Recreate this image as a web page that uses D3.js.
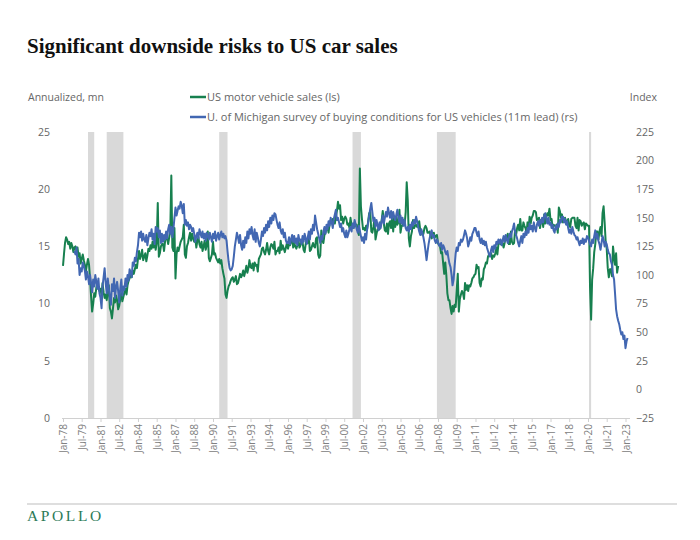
<!DOCTYPE html>
<html><head><meta charset="utf-8">
<script src="https://cdn.jsdelivr.net/npm/d3@7"></script>
<style>body{margin:0;background:#fff}svg{display:block}</style>
</head><body><svg id="c" width="700" height="540"></svg>
<script>
// ---- DATA ----
const title = "Significant downside risks to US car sales";
const leftAxisTitle = "Annualized, mn";
const rightAxisTitle = "Index";
const seriesNames = ["US motor vehicle sales (ls)", "U. of Michigan survey of buying conditions for US vehicles (11m lead) (rs)"];

const salesStart = "1978-01";
const sales = [
13.3,14.4,15.3,15.8,15.6,15.2,15.4,14.8,15.3,15.0,14.5,14.9,
15.0,14.6,14.9,14.1,14.4,13.5,13.9,14.3,13.8,13.4,12.8,13.4,
13.9,13.4,12.2,10.6,9.3,10.0,10.9,10.6,11.4,11.8,11.3,11.1,
11.3,10.7,11.8,11.0,10.5,10.8,10.3,11.0,11.6,9.6,9.3,8.7,
9.6,10.5,10.1,10.7,10.3,9.5,9.8,10.4,10.9,10.2,10.6,11.0,
11.3,10.8,11.6,12.0,12.2,12.6,12.3,12.9,12.6,13.0,13.4,13.1,
13.9,14.6,13.9,14.2,14.7,13.8,14.1,14.4,13.7,14.2,14.8,14.6,
15.1,14.8,15.4,14.9,15.6,14.7,15.3,18.8,14.1,14.4,15.0,15.2,
15.2,14.6,15.4,16.1,15.7,15.2,15.8,16.3,21.2,14.9,14.6,16.6,
12.2,14.3,14.9,14.6,15.0,15.4,15.6,15.8,16.9,14.3,14.0,15.0,
15.3,15.8,16.2,15.5,16.1,15.7,15.4,15.7,14.9,15.5,15.8,15.2,
14.9,15.4,14.6,15.0,15.5,14.7,15.1,16.3,14.0,13.7,14.0,14.3,
15.4,14.3,14.4,14.0,13.8,13.6,13.9,13.5,13.8,13.1,12.6,12.2,
10.8,10.5,11.1,11.5,11.7,12.0,12.2,12.3,11.9,12.1,12.4,11.7,
11.8,12.2,12.6,12.3,12.5,12.9,12.4,12.8,13.3,12.7,13.1,13.8,
13.2,13.1,13.5,12.9,13.6,13.3,13.4,12.8,13.9,14.1,14.3,14.8,
14.9,14.5,14.3,14.7,15.3,14.6,14.3,14.9,15.2,15.1,14.8,15.4,
14.3,14.6,14.6,14.9,14.4,15.5,14.7,15.1,14.8,14.5,14.9,15.3,
14.8,15.2,15.1,15.4,15.8,14.9,15.3,15.0,14.8,15.1,15.6,14.9,
15.1,15.5,15.4,14.7,14.5,15.2,15.6,15.3,15.9,14.6,14.7,15.0,
15.3,15.0,14.9,15.7,15.8,14.3,14.0,14.2,16.4,15.5,15.3,16.0,
16.2,16.6,16.7,16.2,17.0,17.3,17.1,17.4,17.2,17.0,17.6,18.1,
18.9,18.3,18.6,17.3,17.6,17.0,17.4,17.6,17.4,16.9,17.0,16.6,
17.5,16.8,16.9,16.6,17.1,16.8,16.9,16.4,16.0,21.8,18.5,17.4,
16.5,16.6,16.4,16.8,16.5,17.2,17.9,18.0,16.3,16.2,16.7,17.4,
15.6,16.1,16.5,16.5,16.5,16.9,17.3,18.1,17.0,16.4,16.3,17.0,
16.1,17.0,17.2,16.6,17.6,16.3,17.5,16.7,17.6,16.9,17.1,18.2,
16.2,16.8,16.8,17.3,16.9,18.0,20.6,19.0,15.7,15.0,15.9,16.3,
17.3,16.6,16.8,16.9,16.7,16.8,17.2,16.4,16.3,16.0,16.1,16.6,
16.8,16.6,16.2,16.2,16.3,15.9,15.7,16.0,16.2,15.8,15.9,16.0,
15.3,15.1,15.0,14.4,14.5,13.5,12.6,13.6,12.5,10.9,10.3,10.3,
9.6,9.1,9.8,9.3,9.9,9.7,11.2,12.6,9.3,10.4,10.8,11.1,
10.9,10.4,11.8,11.2,11.6,11.1,11.6,11.5,11.8,12.2,12.3,12.5,
12.6,13.4,13.1,13.2,11.8,11.5,12.2,12.1,13.0,13.2,13.6,13.5,
14.1,14.3,14.2,14.4,13.9,14.2,14.1,14.4,14.9,14.3,15.2,15.3,
15.2,15.3,15.3,14.9,15.3,15.9,15.8,16.1,15.2,15.2,16.3,15.4,
15.2,15.3,16.4,16.0,16.6,16.9,16.4,17.4,16.4,16.4,17.1,16.8,
16.6,16.2,17.1,16.5,17.6,17.0,17.5,17.7,18.1,18.1,18.0,17.3,
17.4,17.5,16.6,17.3,17.4,16.7,17.8,17.0,17.6,17.9,17.7,18.3,
17.3,17.4,16.6,16.9,16.8,16.8,16.9,16.2,18.4,18.1,17.5,17.8,
17.1,17.2,17.5,17.2,17.1,17.4,16.8,16.7,17.4,17.5,17.5,17.5,
16.8,16.6,17.5,16.4,17.3,17.2,16.8,17.0,17.1,16.5,17.0,16.9,
16.8,16.8,11.4,8.6,12.1,13.1,14.5,15.2,16.3,16.3,15.6,16.3,
16.7,15.9,17.9,18.5,17.1,15.4,14.8,13.1,12.3,13.0,13.0,12.4,
15.0,14.1,13.4,14.4,12.7,13.3
];

// Michigan survey: monthly from survey month Jan-78, plotted 11 months ahead
const michiganStart = "1978-01";
const leadMonths = 11;
const michigan = [
121,
118,124,110,114,100,106,103,111,108,104,96,103,
99,92,100,93,85,96,90,100,94,88,97,84,
80,71,90,98,106,93,84,97,88,80,74,92,
86,97,80,90,94,86,76,88,96,82,90,87,
97,90,100,95,105,102,98,111,108,115,112,120,
126,137,133,138,130,136,131,129,135,126,132,137,
134,140,131,136,127,142,138,141,133,139,128,136,
129,135,131,138,132,140,144,136,142,133,140,150,
159,152,156,160,158,164,161,154,162,144,148,143,
146,140,144,142,138,141,136,129,134,137,132,140,
136,133,138,132,136,130,137,134,131,137,133,129,
136,132,138,130,134,137,131,135,138,133,136,132,
134,130,121,112,106,104,105,108,116,125,131,137,
133,128,135,126,122,130,124,133,128,138,132,140,
136,142,135,131,140,129,137,133,128,125,131,138,
134,141,137,144,139,147,142,150,145,152,148,154,
153,148,144,141,146,139,136,140,133,137,130,128,
128,133,127,131,135,129,134,128,132,126,135,130,
131,127,134,129,136,132,127,133,138,131,140,136,
144,139,152,146,140,136,132,128,134,131,138,142,
136,144,140,147,143,150,146,141,149,153,157,148,
150,146,142,145,138,141,136,133,139,133,136,140,
142,138,145,141,148,144,140,137,143,139,134,130,
133,128,136,131,140,146,152,158,163,155,147,150,
142,148,144,139,146,141,147,152,145,150,155,151,
159,154,150,156,149,155,151,148,153,157,150,146,
152,145,150,143,148,141,139,142,138,144,140,146,
143,148,145,151,147,142,138,135,140,137,133,128,
121,113,120,127,132,136,139,133,135,130,128,131,
129,126,125,128,122,126,124,120,118,121,115,110,
107,100,91,96,108,119,124,121,128,126,131,129,
131,135,139,136,132,125,128,133,130,136,138,141,
141,137,134,138,131,128,132,127,130,126,129,124,
121,118,116,122,125,120,126,123,129,127,131,128,
131,126,130,134,129,135,131,128,133,136,133,138,
141,145,138,135,132,128,125,130,134,128,136,133,
138,135,141,137,145,140,143,138,146,141,138,144,
147,143,148,145,150,146,152,154,149,145,150,144,
146,141,144,139,137,143,140,145,142,148,146,151,
151,146,149,144,147,141,137,140,136,142,138,135,
134,131,133,129,126,130,128,132,127,131,129,134,
133,130,127,125,131,128,134,139,132,136,130,127,
122,128,134,131,125,129,127,122,119,118,112,109,
100,96,84,70,64,60,57,52,48,50,44,47,
36,42,45
];

const recessions = [
  ["1980-01","1980-07"],["1981-07","1982-11"],["1990-07","1991-03"],
  ["2001-03","2001-11"],["2007-12","2009-06"],["2020-02","2020-04"]
];
const xTickLabels = ["Jan-78","Jul-79","Jan-81","Jul-82","Jan-84","Jul-85","Jan-87","Jul-88","Jan-90","Jul-91","Jan-93","Jul-94","Jan-96","Jul-97","Jan-99","Jul-00","Jan-02","Jul-03","Jan-05","Jul-06","Jan-08","Jul-09","Jan-11","Jul-12","Jan-14","Jul-15","Jan-17","Jul-18","Jan-20","Jul-21","Jan-23"];
const leftTicks = [0,5,10,15,20,25];
const rightTicks = [-25,0,25,50,75,100,125,150,175,200,225];

// ---- CHART ----
const svg = d3.select("#c");
const parseYM = d3.timeParse("%Y-%m");
const parseTick = d3.timeParse("%b-%y");
const green = "#17804f", blue = "#4267b2", grey = "#666";
const fontSans = "'Open Sans', 'Noto Sans', sans-serif";

const x = d3.scaleTime().domain([parseYM("1978-01"), parseYM("2023-01")]).range([63, 625.5]);
const yL = d3.scaleLinear().domain([0,25]).range([418,132]);
const yR = d3.scaleLinear().domain([-25,225]).range([418,132]);

svg.append("rect").attr("width",700).attr("height",540).attr("fill","#fff");

// title
svg.append("text").attr("x",27).attr("y",53).text(title)
  .attr("font-family","'Liberation Serif', 'DejaVu Serif', serif").attr("font-weight","bold")
  .attr("font-size",21).attr("fill","#111");

// axis titles
svg.append("text").attr("x",28).attr("y",101).text(leftAxisTitle)
  .attr("font-family",fontSans).attr("font-size",10.5).attr("fill",grey);
svg.append("text").attr("x",657).attr("y",101).attr("text-anchor","end").text(rightAxisTitle)
  .attr("font-family",fontSans).attr("font-size",10.5).attr("fill",grey);

// legend
[green, blue].forEach((c,i)=>{
  const yy = 97 + i*20;
  svg.append("line").attr("x1",190).attr("x2",206).attr("y1",yy).attr("y2",yy).attr("stroke",c).attr("stroke-width",2.5);
  svg.append("text").attr("x",207).attr("y",yy+4).text(seriesNames[i])
    .attr("font-family",fontSans).attr("font-size",11).attr("fill",grey);
});

// recession bands
svg.append("g").selectAll("rect").data(recessions).join("rect")
  .attr("x", d=>x(parseYM(d[0]))).attr("width", d=>x(parseYM(d[1]))-x(parseYM(d[0])))
  .attr("y", yL(25)).attr("height", yL(0)-yL(25)).attr("fill","#d9d9d9");

// x axis
const tickDates = xTickLabels.map(parseTick);
const xAxis = d3.axisBottom(x).tickValues(tickDates).tickFormat((d,i)=>xTickLabels[i]).tickSize(4).tickSizeOuter(0);
const gx = svg.append("g").attr("transform","translate(0,418)").call(xAxis);
gx.select(".domain").attr("d","M62,0.5H630").attr("stroke","#d0d0d0");
gx.selectAll(".tick line").attr("stroke","#d0d0d0");
gx.selectAll(".tick text").attr("font-family",fontSans).attr("font-size",10).attr("fill","#808080")
  .attr("transform","rotate(-90)").attr("text-anchor","end").attr("x",-6).attr("y",0).attr("dy","0.35em");

// left axis labels
const gl = svg.append("g").attr("transform","translate(50,0)")
  .call(d3.axisLeft(yL).tickValues(leftTicks).tickSize(0).tickPadding(0));
gl.select(".domain").remove();
gl.selectAll("text").attr("font-family",fontSans).attr("font-size",10.5).attr("fill",grey);

const gr = svg.append("g").attr("transform","translate(636,0)")
  .call(d3.axisRight(yR).tickValues(rightTicks).tickSize(0).tickPadding(0));
gr.select(".domain").remove();
gr.selectAll("text").attr("font-family",fontSans).attr("font-size",10.5).attr("fill",grey);

// series
const s0 = parseYM(salesStart);
const salesData = sales.map((v,i)=>({d:d3.timeMonth.offset(s0,i), v}));
const m0 = d3.timeMonth.offset(parseYM(michiganStart), leadMonths);
const michData = michigan.map((v,i)=>({d:d3.timeMonth.offset(m0,i), v}));

svg.append("path").datum(salesData).attr("fill","none").attr("stroke",green).attr("stroke-width",2)
  .attr("stroke-linejoin","round")
  .attr("d", d3.line().x(d=>x(d.d)).y(d=>yL(d.v)));
svg.append("path").datum(michData).attr("fill","none").attr("stroke",blue).attr("stroke-width",2)
  .attr("stroke-linejoin","round")
  .attr("d", d3.line().x(d=>x(d.d)).y(d=>yR(d.v)));

// footer
svg.append("line").attr("x1",27).attr("x2",677).attr("y1",504).attr("y2",504).attr("stroke","#bdbdbd").attr("stroke-width",1.2);
svg.append("text").attr("x",27).attr("y",521).text("APOLLO")
  .attr("font-family","'Liberation Serif', 'DejaVu Serif', serif").attr("font-size",15.5)
  .attr("letter-spacing",2.6).attr("fill","#2d7a58");
</script></body></html>
